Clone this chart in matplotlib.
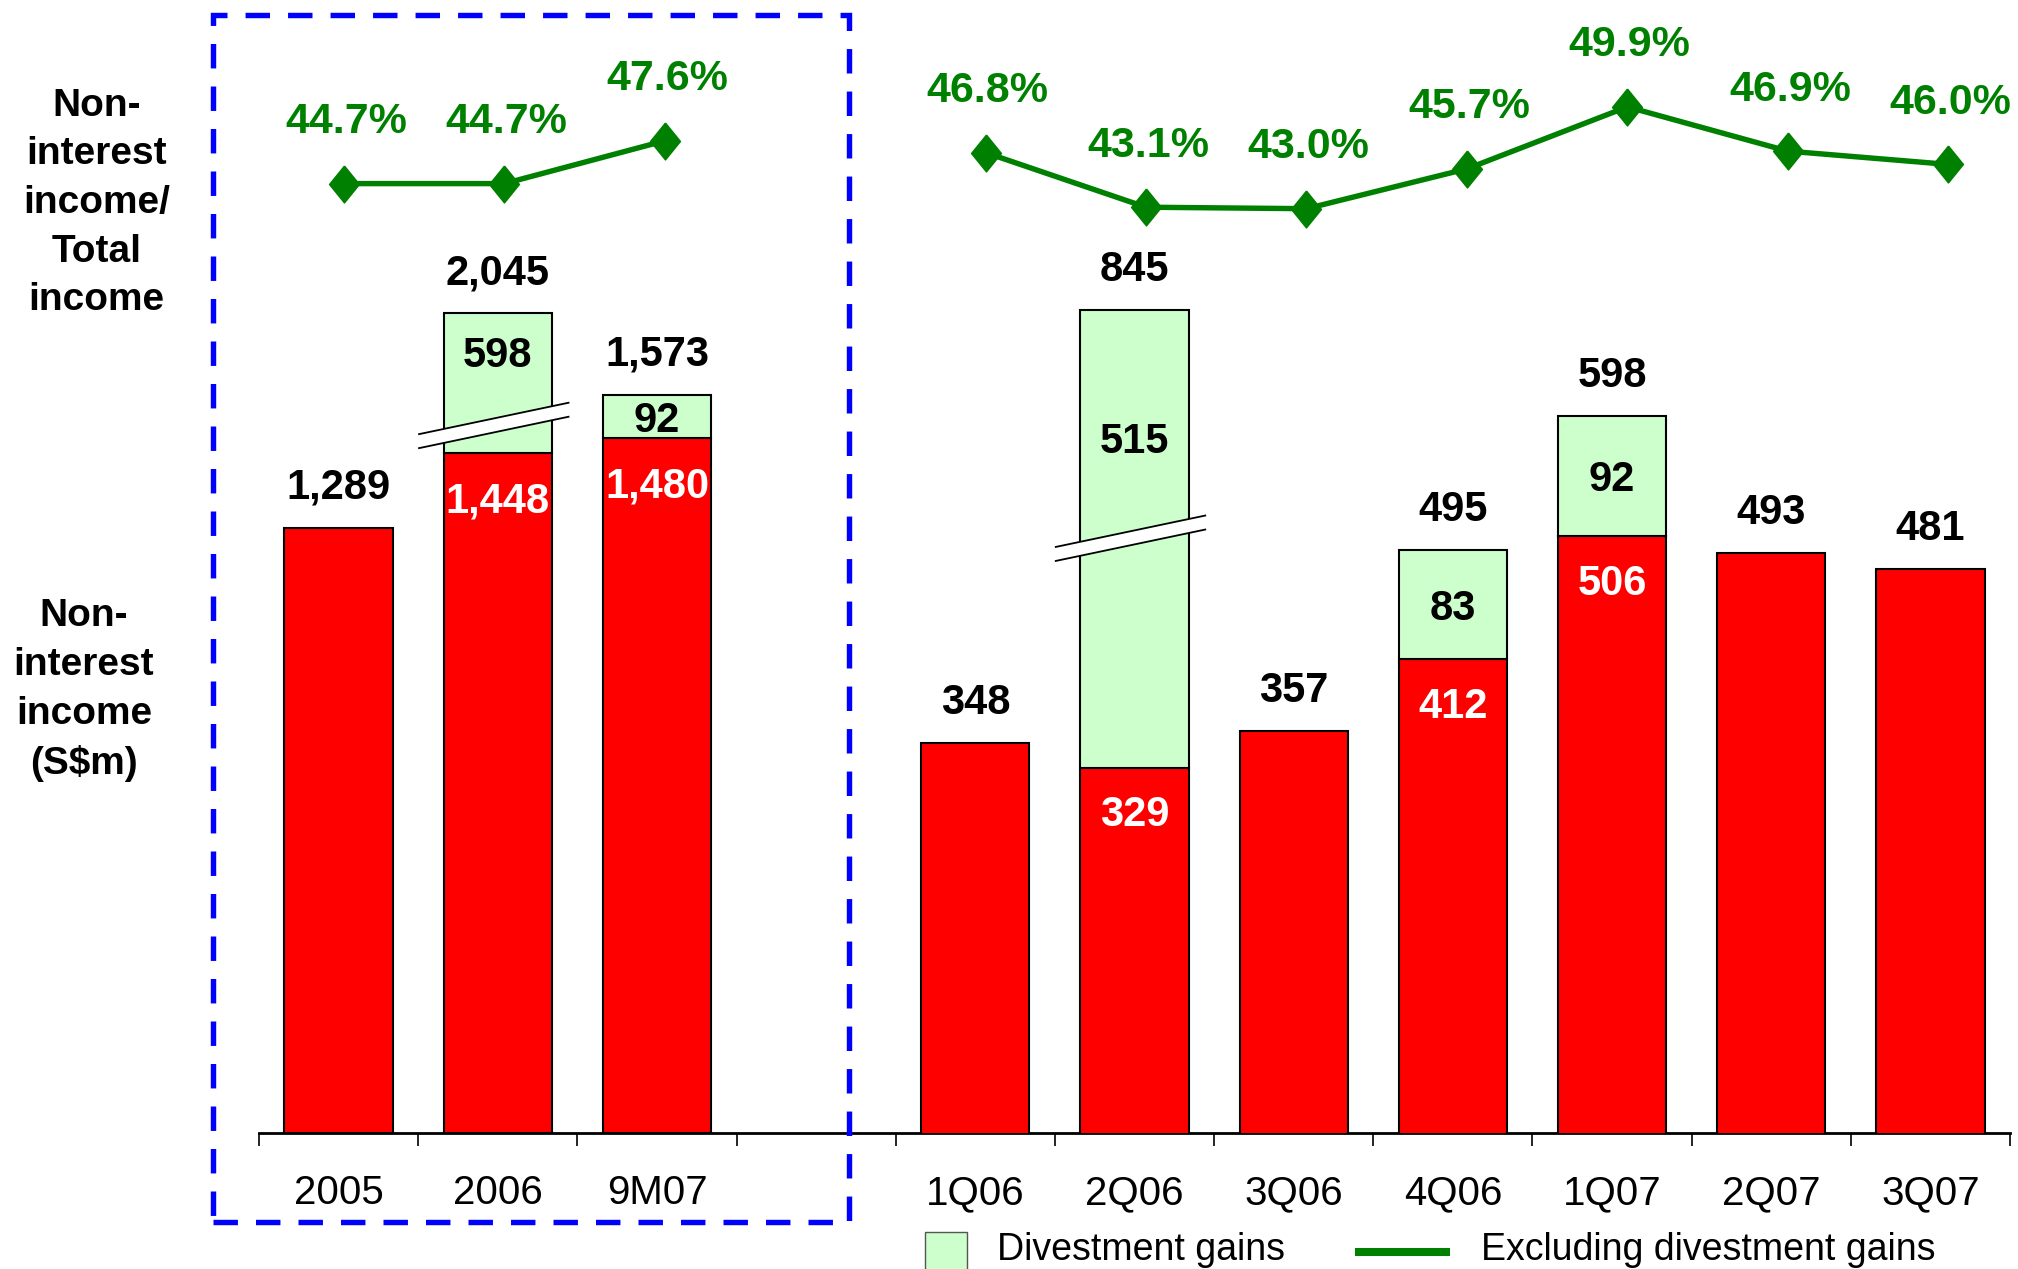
import numpy as np
import matplotlib
matplotlib.use('Agg')
import matplotlib.pyplot as plt
from matplotlib.patches import Rectangle, Polygon
from matplotlib.lines import Line2D

plt.rcParams['font.family'] = ['Liberation Sans', 'DejaVu Sans']
plt.rcParams['lines.scale_dashes'] = False

# ---------------- data ----------------
annual_labels = ['2005', '2006', '9M07']
annual_core = [1289, 1448, 1480]
annual_gain = [0, 598, 92]
annual_total = [1289, 2045, 1573]
annual_ratio = [44.7, 44.7, 47.6]

quarter_labels = ['1Q06', '2Q06', '3Q06', '4Q06', '1Q07', '2Q07', '3Q07']
quarter_core = [348, 329, 357, 412, 506, 493, 481]
quarter_gain = [0, 515, 0, 83, 92, 0, 0]
quarter_total = [348, 845, 357, 495, 598, 493, 481]
quarter_ratio = [46.8, 43.1, 43.0, 45.7, 49.9, 46.9, 46.0]

legend_labels = ['Divestment gains', 'Excluding divestment gains']
ratio_title = 'Non-\ninterest\nincome/\nTotal\nincome'
income_title = 'Non-\ninterest\nincome\n(S$m)'

# ---------------- style ----------------
W, H, DPI = 2018, 1269, 100
RED, PALE, GREEN, BLUE = '#FF0000', '#CCFFCC', '#008000', '#0000FF'
BAR_W = 0.68
ANNUAL_X = np.arange(3)
QUARTER_X = np.arange(4, 11)
# axis breaks: index in group -> (value hidden by the break, value where the break sits)
ANNUAL_BREAK = {1: (300, 1509)}
QUARTER_BREAK = {1: (165, 505)}
VAL_SIZE = 30
PCT_SIZE = 31

fig = plt.figure(figsize=(W / DPI, H / DPI), dpi=DPI)
L, R, B, T = 259, 2010, 1132.6, 0
rect = [L / W, 1 - B / H, (R - L) / W, (B - T) / H]
ax_a = fig.add_axes(rect)
ax_q = fig.add_axes(rect)
ax_r = fig.add_axes(rect)
for ax in (ax_a, ax_q):
    ax.set_xlim(-0.5, 10.5)
ax_a.set_ylim(0, 2414)
ax_q.set_ylim(49.8, 916)
ax_r.set_xlim(-0.529, 10.385)
ax_r.set_ylim(-19.6, 57.14)
for ax in (ax_a, ax_q, ax_r):
    ax.patch.set_visible(False)
for ax in (ax_q, ax_r):
    ax.axis('off')
for s in ('top', 'left', 'right'):
    ax_a.spines[s].set_visible(False)
ax_a.spines['bottom'].set_linewidth(2)
ax_a.set_yticks([])
ax_a.set_xticks(np.arange(-0.5, 11, 1))
ax_a.tick_params(axis='x', which='major', length=9.5, width=1.2,
                 direction='out', labelbottom=False)
ax_a.set_xticks(list(ANNUAL_X) + list(QUARTER_X),
                annual_labels + quarter_labels, minor=True)
ax_a.tick_params(axis='x', which='minor', length=0, pad=30, labelsize=29)


def txt(ax, x, y, s, dy_px, color, size=VAL_SIZE):
    ax.annotate(s, (x, y), xytext=(0, dy_px * 72 / DPI - 0.358 * size),
                textcoords='offset points', ha='center', va='baseline',
                fontsize=size, fontweight='bold', color=color, zorder=6)


def draw_break(ax, x, y):
    to_px = ax.transData.transform
    cx, cy = to_px((x, y))
    sw = to_px((x + 1, y))[0] - cx
    x0, x1 = cx - 0.5 * sw, cx + 0.45 * sw
    slope, g = 0.21, 14
    y0, y1 = cy + slope * (x0 - cx), cy + slope * (x1 - cx)
    inv = ax.transData.inverted()
    poly = [(x0, y0 + g / 2), (x1, y1 + g / 2), (x1, y1 - g / 2), (x0, y0 - g / 2)]
    ax.add_patch(Polygon(inv.transform(poly), closed=True, fc='white',
                         ec='none', zorder=4))
    for sgn in (1, -1):
        pts = inv.transform([(x0, y0 + sgn * g / 2), (x1, y1 + sgn * g / 2)])
        ax.plot(pts[:, 0], pts[:, 1], color='black', lw=1.3, zorder=5,
                solid_capstyle='butt')


def draw_group(ax, xs, core, gain, total, breaks):
    core = np.array(core, float)
    gain = np.array(gain, float)
    shown = gain.copy()
    for i, (hid, _) in breaks.items():
        shown[i] = gain[i] - hid
    ax.bar(xs, core, BAR_W, color=RED, edgecolor='black', linewidth=1.5, zorder=2)
    has = gain > 0
    ax.bar(xs[has], shown[has], BAR_W, bottom=core[has], color=PALE,
           edgecolor='black', linewidth=1.5, zorder=2)
    for i, x in enumerate(xs):
        top = core[i] + shown[i]
        txt(ax, x, top, f'{int(total[i]):,}', 44, 'black')
        if gain[i] > 0:
            txt(ax, x, core[i], f'{int(core[i]):,}', -44, 'white')
            gy = top - 0.28 * shown[i] if i in breaks else core[i] + shown[i] / 2
            txt(ax, x, gy, f'{int(gain[i]):,}', 0, 'black')
    for i, (hid, at) in breaks.items():
        draw_break(ax, xs[i], at)


draw_group(ax_a, ANNUAL_X, annual_core, annual_gain, annual_total, ANNUAL_BREAK)
draw_group(ax_q, QUARTER_X, quarter_core, quarter_gain, quarter_total, QUARTER_BREAK)

diamond = [(0, 1), (0.81, 0), (0, -1), (-0.81, 0), (0, 1)]
for xs, r in ((ANNUAL_X, annual_ratio), (QUARTER_X, quarter_ratio)):
    ax_r.plot(xs, r, color=GREEN, lw=3.9, marker=diamond, ms=26.6,
              mfc=GREEN, mec=GREEN, zorder=3)
    for x, v in zip(xs, r):
        ax_r.annotate(f'{v:.1f}%', (x, v),
                      xytext=(1.5, 66 * 0.72 - 0.358 * PCT_SIZE),
                      textcoords='offset points', ha='center', va='baseline',
                      fontsize=PCT_SIZE, fontweight='bold', color=GREEN)

fig.text(96.5 / W, 1 - 203 / H, ratio_title, ha='center', va='center',
         fontsize=28, fontweight='bold', linespacing=1.45, multialignment='center')
fig.text(84 / W, 1 - 690 / H, income_title, ha='center', va='center',
         fontsize=28, fontweight='bold', linespacing=1.45, multialignment='center')

fig.add_artist(Rectangle((213 / W, 1 - 1222 / H), (849 - 213) / W, (1222 - 15) / H,
                         transform=fig.transFigure, fill=False, ec=BLUE, lw=3.9,
                         ls=(0, (17.6, 13)), zorder=10))

fig.add_artist(Rectangle((925 / W, 1 - 1275 / H), 42 / W, 43 / H,
                         transform=fig.transFigure, fc=PALE, ec='#555555', lw=1))
fig.text(997 / W, 1 - 1260 / H, legend_labels[0], fontsize=27,
         va='baseline', ha='left')
fig.add_artist(Line2D([1359 / W, 1446 / W], [1 - 1252 / H] * 2,
                      transform=fig.transFigure, color=GREEN, lw=5.8))
fig.text(1481 / W, 1 - 1260 / H, legend_labels[1], fontsize=27,
         va='baseline', ha='left')

fig.savefig('out.png', dpi=DPI)
